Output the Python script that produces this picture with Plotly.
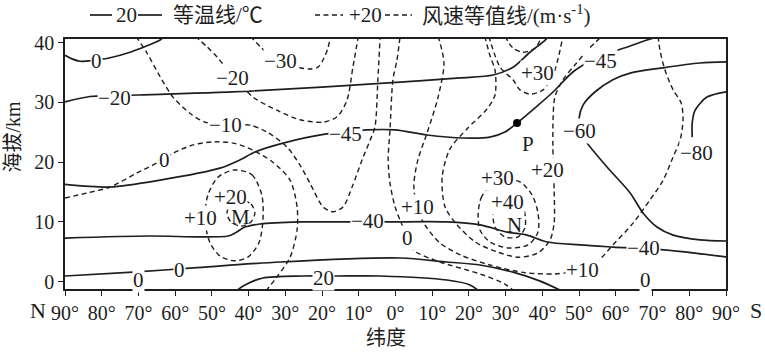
import plotly.graph_objects as go

SERIF = "Liberation Serif"
CJK = "Liberation Serif, Noto Sans CJK SC"
INK = "#1e1e1e"

# ---------------- axes ----------------
lat_ticks = [90, 80, 70, 60, 50, 40, 30, 20, 10, 0, -10, -20, -30, -40, -50, -60, -70, -80, -90]
lat_tick_text = [f"{abs(v)}°" for v in lat_ticks]
alt_ticks = [0, 10, 20, 30, 40]

# ---------------- isotherms (solid): (latitude, N positive ; altitude km) ----------------
iso_0_upper = [(90, 37.9), (88.1, 37.3), (85.9, 36.9), (81.8, 37.1), (78.3, 37.4), (72.3, 38.4), (64.1, 40.45), (63.3, 40.9)]
iso_m20 = [(90, 30.1), (83.2, 31.0), (76.4, 31.1), (70.4, 31.25), (39.6, 31.9), (-1.2, 33.4), (-17.6, 34.1),
           (-26.6, 34.6), (-32.0, 35.9), (-36.6, 38.4), (-40.7, 40.4), (-42.1, 41.3)]
iso_m45 = [(90, 16.3), (77.7, 15.85), (64.1, 17.0), (47.8, 19.0), (42.3, 20.4), (38.3, 21.7), (30.6, 23.2),
           (19.2, 24.7), (7.8, 25.4), (0.1, 25.4), (-8.6, 24.55), (-18.4, 24.05), (-25.7, 24.2), (-29.8, 25.05),
           (-33.1, 26.56), (-38.0, 29.1), (-42.9, 31.75), (-48.3, 35.1), (-53.0, 36.9), (-58.4, 38.3),
           (-63.9, 39.45), (-68.5, 40.45), (-72.0, 41.1)]
iso_m40 = [(90, 7.3), (66.9, 7.65), (53.2, 7.5), (45.6, 7.65), (43.7, 8.15), (41.0, 9.15), (36.9, 9.66),
           (26.0, 10.0), (14.3, 10.0), (2.3, 10.0), (-14.0, 10.0), (-23.0, 9.5), (-30.4, 8.3), (-35.8, 7.8),
           (-41.3, 6.65), (-50.2, 6.15), (-59.2, 5.8), (-73.9, 5.3), (-90.5, 4.1)]
iso_0_lower = [(90, 0.95), (71.5, 1.6), (55.1, 2.3), (31.4, 3.3), (-1.2, 3.97), (-14.0, 3.3), (-23.0, 2.8),
               (-32.0, 1.6), (-39.4, 0.1), (-44.8, -1.4)]
iso_20 = [(43.7, -1.7), (41.0, -0.55), (36.1, 0.62), (25.2, 0.95), (15.9, 0.95), (4.2, 0.95), (-14.0, 0.28),
          (-20.3, -0.55), (-23.0, -1.7)]
iso_m60 = [(-91.1, 36.8), (-82.9, 36.6), (-72.9, 35.8), (-63.9, 34.9), (-59.2, 33.8), (-54.3, 31.75),
           (-51.1, 29.6), (-50.0, 27.4), (-50.3, 25.4), (-51.6, 23.7), (-57.6, 19.2), (-63.9, 14.85),
           (-67.4, 11.5), (-71.2, 9.15), (-75.6, 7.8), (-82.9, 7.0), (-91.1, 6.8)]
iso_m80 = [(-91.1, 31.9), (-84.8, 30.9), (-81.6, 28.7), (-80.8, 26.6), (-80.8, 24.2)]

# ---------------- wind-speed isolines (dashed) ----------------
wind_m30 = [(39.6, 41.1), (36.4, 39.1), (33.6, 37.6), (30.1, 36.6), (26.0, 35.8), (23.3, 35.6), (21.1, 35.9),
            (19.5, 37.4), (18.4, 39.1), (17.8, 40.8)]
wind_m20 = [(54.6, 41.1), (51.3, 39.3), (48.6, 37.6), (44.5, 34.6), (38.8, 30.9), (32.3, 28.7), (26.0, 27.1),
            (19.7, 26.7), (15.9, 27.6), (13.2, 30.4), (11.6, 35.9), (10.2, 40.8)]
wind_m10 = [(70.7, 41.1), (67.7, 38.3), (64.1, 34.3), (60.6, 30.9), (56.0, 28.2), (51.9, 26.7), (45.1, 26.2),
            (39.6, 26.2), (35.0, 25.05), (29.5, 22.5), (26.0, 19.5), (23.3, 16.5), (19.7, 12.5), (17.0, 11.7),
            (14.3, 12.5), (11.6, 16.2), (9.1, 20.4), (6.9, 23.7), (5.6, 25.9), (4.8, 33.8), (4.2, 40.8)]
wind_0_west = [(90, 14.0), (84.0, 14.85), (77.7, 15.85), (70.4, 18.2), (64.9, 19.9), (60.6, 21.5), (55.1, 22.9),
               (49.7, 23.4), (44.2, 23.2), (38.8, 22.0), (33.4, 20.0), (28.7, 17.0), (26.8, 12.5), (26.8, 8.65),
               (28.7, 4.1), (32.3, 0.8), (35.5, -1.7)]
wind_p10_m = [(44.0, 18.7), (39.1, 17.9), (36.4, 14.5), (36.1, 10.3), (37.2, 6.5), (40.2, 4.1), (44.0, 3.5),
              (47.8, 4.3), (50.5, 6.5), (51.9, 10.3), (51.1, 14.5), (48.3, 17.5), (44.0, 18.7)]
wind_p20_m = [(42.1, 13.7), (39.35, 13.0), (38.3, 11.5), (39.35, 10.0), (42.1, 9.3), (44.8, 10.0), (45.9, 11.5),
              (44.8, 13.0), (42.1, 13.7)]
wind_0_mid = [(-1.2, 40.8), (-0.4, 37.1), (0.7, 33.8), (1.5, 25.4), (2.0, 20.4), (1.5, 16.5), (0.1, 12.5),
              (-1.8, 9.5), (-3.4, 7.3), (-4.8, 5.3), (-12.1, 3.3), (-23.0, 1.3), (-29.8, -0.4), (-32.5, -1.7)]
wind_p10_s = [(-11.6, 41.1), (-13.2, 36.6), (-11.6, 30.9), (-8.6, 24.9), (-6.1, 20.4), (-5.0, 16.2), (-5.8, 12.5),
              (-8.0, 9.5), (-12.1, 6.5), (-17.6, 4.5), (-25.7, 2.8), (-35.3, 1.5), (-43.4, 1.3), (-47.5, 1.6),
              (-51.1, 2.0), (-54.9, 3.3), (-59.2, 6.15), (-64.7, 9.8), (-69.3, 13.7), (-72.9, 17.0),
              (-75.6, 20.9), (-77.5, 23.7), (-78.3, 27.1), (-77.8, 29.9), (-75.6, 32.1), (-73.4, 35.4),
              (-72.0, 38.8), (-71.5, 41.1)]
wind_p20_s = [(-24.3, 41.1), (-25.7, 37.9), (-27.1, 35.4), (-27.1, 31.25), (-24.9, 28.9), (-19.5, 25.6),
              (-14.8, 22.2), (-12.7, 17.5), (-13.5, 12.5), (-16.8, 9.5), (-21.7, 6.65), (-27.6, 5.0),
              (-33.4, 4.1), (-38.8, 4.8), (-42.1, 7.0), (-43.2, 9.8), (-43.2, 15.35), (-42.9, 20.9),
              (-42.9, 27.1), (-43.4, 30.9), (-45.6, 33.8), (-48.9, 36.3), (-52.4, 38.8), (-56.2, 41.1)]
wind_p30_n = [(-22.5, 11.3), (-23.3, 14.0), (-25.7, 16.0), (-29.8, 17.0), (-33.9, 16.7), (-37.2, 14.5),
              (-38.8, 11.5), (-38.8, 8.3), (-36.1, 6.15), (-30.6, 5.65), (-25.7, 6.65), (-23.0, 8.65), (-22.5, 11.3)]
wind_p40_n = [(-28.2, 13.7), (-26.6, 12.0), (-27.1, 9.15), (-29.8, 7.5), (-33.4, 7.5), (-35.3, 9.15),
              (-34.7, 12.5), (-31.2, 14.0), (-28.2, 13.7)]
wind_p30_top = [(-25.4, 41.1), (-28.5, 35.9), (-32.0, 33.8), (-33.9, 32.1), (-36.6, 31.4), (-40.2, 32.1),
                (-42.9, 34.6), (-44.3, 37.4), (-45.6, 41.1)]
wind_p40_top = [(-29.8, 41.1), (-32.0, 39.1), (-34.7, 38.4), (-38.0, 39.1), (-39.9, 41.1)]

point_p = [(-33.1, 26.56)]

iso_labels = [("0", 81.3, 36.9), ("−20", 76.4, 30.7), ("−45", 13.7, 24.7), ("−40", 7.5, 10.2),
              ("0", 58.7, 2.0), ("20", 19.7, 0.6), ("−45", -55.7, 36.9), ("−60", -50.0, 25.2),
              ("−80", -82.1, 21.5), ("−40", -67.4, 5.6), ("0", 70.1, 0.3), ("0", -68.2, 0.3)]
wind_labels = [("−30", 31.2, 36.9), ("−20", 44.5, 34.1), ("−10", 46.2, 26.2), ("0", 62.8, 20.4),
               ("+20", 44.8, 14.2), ("+10", 53.2, 10.7), ("+30", -38.8, 34.9), ("+10", -6.1, 12.5),
               ("0", -3.4, 7.3), ("+30", -27.9, 17.3), ("+40", -30.6, 13.3), ("+20", -41.5, 18.7),
               ("+10", -50.8, 2.0)]
letter_labels = [("M", 42.3, 10.8), ("N", -32.5, 9.5), ("P", -36.1, 23.0)]

isotherms = [iso_0_upper, iso_m20, iso_m45, iso_m40, iso_0_lower, iso_20, iso_m60, iso_m80]
windlines = [wind_m30, wind_m20, wind_m10, wind_0_west, wind_p10_m, wind_p20_m, wind_0_mid,
             wind_p10_s, wind_p20_s, wind_p30_n, wind_p40_n, wind_p30_top, wind_p40_top]

DASH = "5px,3.5px"

fig = go.Figure()
for pts in windlines:
    fig.add_trace(go.Scatter(x=[p[0] for p in pts], y=[p[1] for p in pts], mode="lines",
                             line=dict(color=INK, width=1.4, dash=DASH, shape="spline", smoothing=0.8),
                             hoverinfo="skip", showlegend=False))
for pts in isotherms:
    fig.add_trace(go.Scatter(x=[p[0] for p in pts], y=[p[1] for p in pts], mode="lines",
                             line=dict(color=INK, width=1.7, shape="spline", smoothing=0.8),
                             hoverinfo="skip", showlegend=False))
fig.add_trace(go.Scatter(x=[p[0] for p in point_p], y=[p[1] for p in point_p], mode="markers",
                         marker=dict(color="black", size=8), hoverinfo="skip", showlegend=False))


def txt_font(size, family=SERIF):
    return dict(family=family, size=size, color=INK)


annotations = []
for txt, x, y in iso_labels + wind_labels:
    annotations.append(dict(x=x, y=y, xref="x", yref="y", text=txt, showarrow=False,
                            xanchor="center", yanchor="middle",
                            font=txt_font(21), bgcolor="white", borderpad=0))
for txt, x, y in letter_labels:
    annotations.append(dict(x=x, y=y, xref="x", yref="y", text=txt, showarrow=False,
                            xanchor="center", yanchor="middle", font=txt_font(21)))


def paper_text(x, y, text, size, xanchor="center", angle=0, family=SERIF):
    return dict(x=x, y=y, xref="paper", yref="paper", text=text, showarrow=False,
                xanchor=xanchor, yanchor="middle", textangle=angle, font=txt_font(size, family))


annotations += [
    paper_text(-0.041, -0.084, "N", 22),
    paper_text(1.046, -0.084, "S", 22),
    paper_text(0.485, -0.196, "纬度", 20, family=CJK),
    paper_text(-0.080, 0.61, "海拔/km", 20, angle=-90, family=CJK),
    # legend
    paper_text(0.0923, 1.096, "20", 21),
    paper_text(0.160, 1.096, "等温线/℃", 21, xanchor="left", family=CJK),
    paper_text(0.4539, 1.096, "+20", 21),
    paper_text(0.537, 1.096, "风速等值线/(m·s<sup>-1</sup>)", 21, xanchor="left", family=CJK),
]

shapes = [
    dict(type="line", xref="paper", yref="paper", x0=0.0378, x1=0.0711, y0=1.096, y1=1.096,
         line=dict(color=INK, width=1.7)),
    dict(type="line", xref="paper", yref="paper", x0=0.1104, x1=0.1467, y0=1.096, y1=1.096,
         line=dict(color=INK, width=1.7)),
    dict(type="line", xref="paper", yref="paper", x0=0.3782, x1=0.4206, y0=1.096, y1=1.096,
         line=dict(color=INK, width=1.4, dash=DASH)),
    dict(type="line", xref="paper", yref="paper", x0=0.4841, x1=0.5250, y0=1.096, y1=1.096,
         line=dict(color=INK, width=1.4, dash=DASH)),
]

fig.update_layout(
    width=765, height=352,
    margin=dict(l=65, r=39, t=39, b=63),
    paper_bgcolor="white", plot_bgcolor="white",
    annotations=annotations, shapes=shapes,
    font=dict(family=SERIF, color=INK),
    xaxis=dict(range=[90, -90], tickvals=lat_ticks, ticktext=lat_tick_text, ticks="outside", ticklen=5,
               tickcolor=INK, tickwidth=1.3, showline=True, linecolor=INK, linewidth=1.7, mirror=True,
               showgrid=False, zeroline=False, tickfont=txt_font(20)),
    yaxis=dict(range=[-1.222, 40.62], tickvals=alt_ticks, ticks="outside", ticklen=5,
               tickcolor=INK, tickwidth=1.3, showline=True, linecolor=INK, linewidth=1.7, mirror=True,
               showgrid=False, zeroline=False, tickfont=txt_font(20)),
)

fig.write_html("out.html")
